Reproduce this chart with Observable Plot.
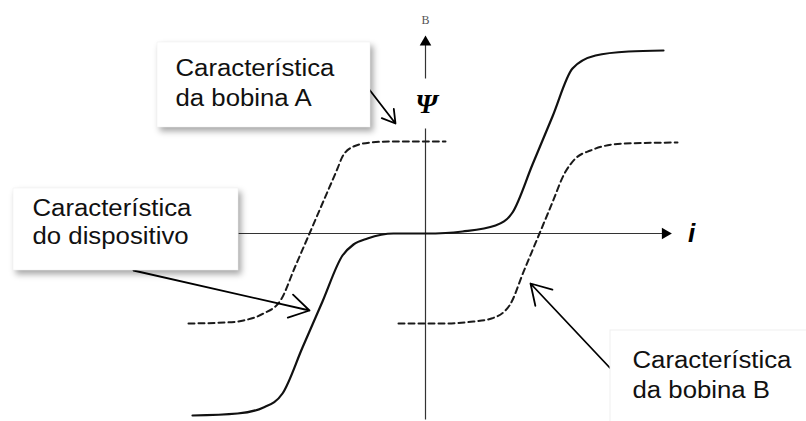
<!DOCTYPE html>
<html>
<head>
<meta charset="utf-8">
<script src="https://cdn.jsdelivr.net/npm/d3@7"></script>
<script src="https://cdn.jsdelivr.net/npm/@observablehq/plot@0.6"></script>
<style>
  body { margin: 0; background: #fff; }
  #chart svg { display: block; }
</style>
</head>
<body>
<div id="chart"></div>
<script>
// Flux linkage ψ versus current i (schematic units).
// Device characteristic: sum of the two shifted coil characteristics.
const deviceI   = [-23.3, -18.8, -16.2, -14.3, -12.3, -10.3, -8.3, -7.2, -5.8, -3.2, 0, 2.0, 3.7, 7.0, 8.7, 10.7, 12.7, 14.7, 17.0, 20.3, 23.8];
const devicePsi = [-18.2, -18.0, -17.4, -16.0, -11.4, -6.8, -2.2, -1.1, -0.5, 0, 0, 0.05, 0.2, 0.8, 2.1, 6.9, 11.7, 16.5, 17.8, 18.2, 18.3];

// Coil A characteristic (saturating, shifted to negative current)
const coilAI   = [-23.7, -20.0, -18.2, -16.2, -14.5, -13.05, -11.6, -10.2, -8.8, -8.3, -7.2, -5.5, -3.5, 2.0];
const coilAPsi = [-9.0, -8.9, -8.7, -8.0, -6.7, -3.35, 0, 3.25, 6.5, 7.7, 8.7, 9.1, 9.2, 9.2];

// Coil B characteristic (saturating, shifted to positive current)
const coilBI   = [-2.7, 2.0, 4.8, 6.6, 8.4, 9.8, 11.4, 12.6, 13.9, 15.0, 16.5, 19.8, 25.2];
const coilBPsi = [-9.0, -9.0, -8.8, -8.5, -7.2, -3.84, 0, 2.88, 6.0, 7.5, 8.3, 9.0, 9.1];

// Callout texts
const calloutA      = ["Característica", "da bobina A"];
const calloutDevice = ["Característica", "do dispositivo"];
const calloutB      = ["Característica", "da bobina B"];

// Axis labels
const xLabel = "i";
const yLabel = "\u03A8";
const yUnit  = "B";

// ---- layout (plot units) ----
const toPts = (xs, ys) => xs.map((x, k) => ({x, y: ys[k]}));
const device = toPts(deviceI, devicePsi);
const coilA = toPts(coilAI, coilAPsi);
const coilB = toPts(coilBI, coilBPsi);

const shadowBoxes = [
  {x1: -26.8, x2: -5.5, y1: 10.6, y2: 19.1},
  {x1: -41.2, x2: -18.7, y1: -3.7, y2: 4.5}
];
const plainBoxes = [
  {x1: 18.5, x2: 40.0, y1: -19.6, y2: -9.7}
];
const textAt = (lines, x, y, step) => lines.map((text, k) => ({text, x, y: y - k * step}));
const calloutLines = [
  ...textAt(calloutA, -25.0, 15.8, 3.0),
  ...textAt(calloutDevice, -39.3, 1.8, 2.8),
  ...textAt(calloutB, 20.7, -13.4, 3.0)
];
const pointers = [
  {x1: -5.7, y1: 14.5, x2: -3.0, y2: 11.0},
  {x1: -29.2, y1: -3.7, x2: -11.6, y2: -7.7},
  {x1: 18.5, y1: -13.5, x2: 10.5, y2: -5.0}
];
const axisLines = [
  {x1: -18.7, y1: 0, x2: 23.7, y2: 0},
  {x1: 0, y1: 10.5, x2: 0, y2: -18.6},
  {x1: 0, y1: 15.5, x2: 0, y2: 19.0}
];
const axisHeads = [
  {x: 0, y: 19.13, rotate: 0},
  {x: 23.97, y: 0, rotate: 90}
];

const sans = "'Liberation Sans', Arial, sans-serif";
const serif = "'Liberation Serif', 'Times New Roman', serif";

const svg = Plot.plot({
  width: 806,
  height: 421,
  margin: 0,
  x: {domain: [-42.5, 38.1], axis: null},
  y: {domain: [-18.8, 23.3], axis: null},
  style: {background: "#fff"},
  marks: [
    Plot.link(axisLines, {x1: "x1", y1: "y1", x2: "x2", y2: "y2", stroke: "#333", strokeWidth: 1.2}),
    Plot.dot(axisHeads, {x: "x", y: "y", rotate: "rotate", symbol: "triangle", r: 4.3, fill: "#000", stroke: "none"}),
    Plot.line(coilA, {x: "x", y: "y", curve: "monotone-x", stroke: "#1a1a1a", strokeWidth: 2, strokeDasharray: "6,4"}),
    Plot.line(coilB, {x: "x", y: "y", curve: "monotone-x", stroke: "#1a1a1a", strokeWidth: 2, strokeDasharray: "6,4"}),
    Plot.line(device, {x: "x", y: "y", curve: "monotone-x", stroke: "#111", strokeWidth: 2.2}),
    Plot.arrow(pointers, {x1: "x1", y1: "y1", x2: "x2", y2: "y2", stroke: "#000", strokeWidth: 1.8, headLength: 19, headAngle: 62}),
    Plot.rect(shadowBoxes, {x1: "x1", x2: "x2", y1: "y1", y2: "y2", fill: "#fff", stroke: "#eee", strokeWidth: 0.5, ariaDescription: "shadowed"}),
    Plot.rect(plainBoxes, {x1: "x1", x2: "x2", y1: "y1", y2: "y2", fill: "#fff", stroke: "#f0f0f0", strokeWidth: 1}),
    Plot.text(calloutLines, {x: "x", y: "y", text: "text", textAnchor: "start", lineAnchor: "bottom",
      fontSize: 23, fontFamily: sans, fill: "#111", ariaDescription: "callout"}),
    Plot.text([yLabel], {x: 0.1, y: 12.9, text: d => d, fontSize: 28, fontWeight: "bold", fontStyle: "italic", fontFamily: serif, fill: "#000"}),
    Plot.text([xLabel], {x: 26.6, y: 0, text: d => d, fontSize: 26, fontWeight: "bold", fontStyle: "italic", fontFamily: sans, fill: "#000"}),
    Plot.text([yUnit], {x: 0, y: 21.3, text: d => d, fontSize: 12, fontFamily: serif, fill: "#555"})
  ]
});

document.getElementById("chart").appendChild(svg);

// soft drop shadow under the callout boxes
svg.querySelectorAll('g[aria-description="shadowed"]').forEach(g => {
  g.style.filter = "drop-shadow(3px 4px 3px rgba(0,0,0,0.35))";
});
// callout lettering is set slightly wide
svg.querySelectorAll('g[aria-description="callout"] text').forEach(t => {
  const len = t.getComputedTextLength();
  t.setAttribute("textLength", (len * 1.12).toFixed(1));
  t.setAttribute("lengthAdjust", "spacingAndGlyphs");
});
</script>
</body>
</html>
